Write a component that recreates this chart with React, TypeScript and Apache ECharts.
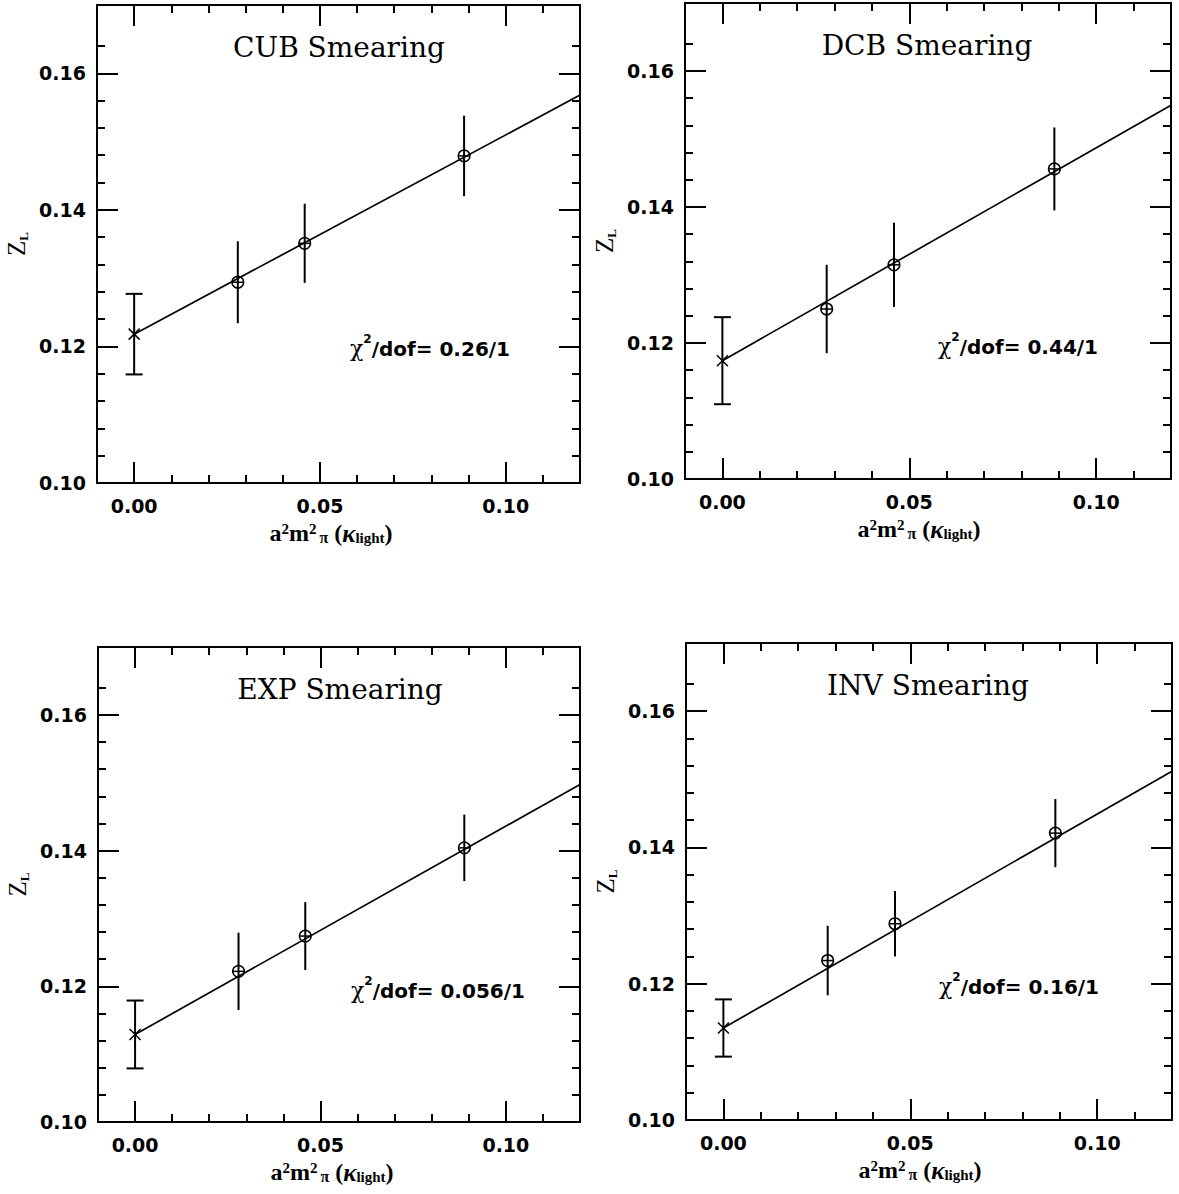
import React, { useEffect, useRef } from "react";
import * as echarts from "echarts";

const WIDTH = 1179;
const HEIGHT = 1194;

// Smearing schemes, one panel each
const schemes = ["CUB", "DCB", "EXP", "INV"];

// Light-quark pion masses squared (lattice units)
const a2m2pi = [0.0279, 0.0459, 0.0888];

// Z_L at each kappa_light, with errors
const cubZ = [0.1294, 0.1351, 0.1479];
const cubErr = [0.006, 0.0058, 0.0059];
const dcbZ = [0.125, 0.1315, 0.1456];
const dcbErr = [0.0065, 0.0062, 0.0061];
const expZ = [0.1222, 0.1274, 0.1404];
const expErr = [0.0057, 0.005, 0.0049];
const invZ = [0.1234, 0.1288, 0.1421];
const invErr = [0.0051, 0.0048, 0.005];

// Chiral extrapolation (value at a^2 m_pi^2 = 0) and fit slope
const chiralZ = [0.1218, 0.1174, 0.1129, 0.1135];
const chiralErr = [0.0059, 0.0064, 0.005, 0.0042];
const fitSlope = [0.2917, 0.313, 0.307, 0.314];
const chi2 = ["0.26/1", "0.44/1", "0.056/1", "0.16/1"];

// Axis ticks
const xMin = -0.01;
const xMax = 0.12;
const yMin = 0.1;
const yMax = 0.17;
const xMajor = [0, 0.05, 0.1];
const xMinor = [0.01, 0.02, 0.03, 0.04, 0.06, 0.07, 0.08, 0.09, 0.11];
const yMajor = [0.1, 0.12, 0.14, 0.16];
const yMinor = [0.104, 0.108, 0.112, 0.116, 0.124, 0.128, 0.132, 0.136, 0.144, 0.148, 0.152, 0.156, 0.164];

const panelZ = [cubZ, dcbZ, expZ, invZ];
const panelErr = [cubErr, dcbErr, expErr, invErr];

// Panel frames in pixels
const frames = [
  { left: 97, top: 5, width: 483, height: 478 },
  { left: 685, top: 3, width: 486, height: 476 },
  { left: 98, top: 647, width: 482, height: 475 },
  { left: 686, top: 643, width: 486, height: 477 },
];

const TICK_FONT = "DejaVu Sans";
const SERIF = "DejaVu Serif";
const LABEL_SERIF = "Liberation Serif";

function tickAxis(gi: number, dim: "x" | "y", position: string, values: number[], length: number, labels: boolean) {
  const isX = dim === "x";
  return {
    gridIndex: gi,
    type: "value",
    position,
    min: isX ? xMin : yMin,
    max: isX ? xMax : yMax,
    splitLine: { show: false },
    axisLine: { show: false, onZero: false },
    axisTick: {
      show: true,
      inside: true,
      length,
      customValues: values,
      lineStyle: { color: "#000", width: 2 },
    },
    axisLabel: labels
      ? {
          show: true,
          customValues: values,
          formatter: (v: number) => v.toFixed(2),
          margin: isX ? 13 : 11,
          color: "#000",
          fontFamily: TICK_FONT,
          fontWeight: "bold",
          fontSize: 19,
          lineHeight: 19,
        }
      : { show: false },
  };
}

function buildOption() {
  const grid: any[] = [];
  const xAxis: any[] = [];
  const yAxis: any[] = [];
  const series: any[] = [];
  const graphic: any[] = [];

  schemes.forEach((name, i) => {
    const f = frames[i];
    grid.push({
      left: f.left,
      top: f.top,
      width: f.width,
      height: f.height,
      show: true,
      borderColor: "#000",
      borderWidth: 2,
      backgroundColor: "transparent",
    });
    const xBase = xAxis.length;
    const yBase = yAxis.length;
    xAxis.push(
      tickAxis(i, "x", "bottom", xMajor, 21, true),
      tickAxis(i, "x", "bottom", xMinor, 8, false),
      tickAxis(i, "x", "top", xMajor, 21, false),
      tickAxis(i, "x", "top", xMinor, 8, false)
    );
    yAxis.push(
      tickAxis(i, "y", "left", yMajor, 21, true),
      tickAxis(i, "y", "left", yMinor, 8, false),
      tickAxis(i, "y", "right", yMajor, 21, false),
      tickAxis(i, "y", "right", yMinor, 8, false)
    );

    // Linear fit, starting at the chiral limit
    series.push({
      type: "line",
      xAxisIndex: xBase,
      yAxisIndex: yBase,
      symbol: "none",
      silent: true,
      lineStyle: { color: "#000", width: 1.7 },
      data: [
        [0, chiralZ[i]],
        [xMax, chiralZ[i] + fitSlope[i] * xMax],
      ],
    });

    // Points with error bars: kind 0 = extrapolated (cross), 1 = measured (circled plus)
    const pts: number[][] = [[0, chiralZ[i], chiralErr[i], 0]];
    a2m2pi.forEach((x, k) => pts.push([x, panelZ[i][k], panelErr[i][k], 1]));

    series.push({
      type: "custom",
      xAxisIndex: xBase,
      yAxisIndex: yBase,
      silent: true,
      clip: false,
      encode: { x: 0, y: 1 },
      data: pts,
      renderItem: (_params: any, api: any) => {
        const x = api.value(0);
        const y = api.value(1);
        const e = api.value(2);
        const kind = api.value(3);
        const c = api.coord([x, y]);
        const t = api.coord([x, y + e]);
        const b = api.coord([x, y - e]);
        const stroke = { stroke: "#000", lineWidth: 2, fill: null };
        const thin = { stroke: "#000", lineWidth: 1.5, fill: null };
        const children: any[] = [
          { type: "line", shape: { x1: t[0], y1: t[1], x2: b[0], y2: b[1] }, style: stroke },
        ];
        if (kind === 0) {
          const cw = 8.5;
          const s = 5.5;
          children.push(
            { type: "line", shape: { x1: c[0] - cw, y1: t[1], x2: c[0] + cw, y2: t[1] }, style: stroke },
            { type: "line", shape: { x1: c[0] - cw, y1: b[1], x2: c[0] + cw, y2: b[1] }, style: stroke },
            { type: "line", shape: { x1: c[0] - s, y1: c[1] - s, x2: c[0] + s, y2: c[1] + s }, style: thin },
            { type: "line", shape: { x1: c[0] - s, y1: c[1] + s, x2: c[0] + s, y2: c[1] - s }, style: thin }
          );
        } else {
          const r = 5.8;
          children.push(
            { type: "circle", shape: { cx: c[0], cy: c[1], r }, style: thin },
            { type: "line", shape: { x1: c[0] - r, y1: c[1], x2: c[0] + r, y2: c[1] }, style: thin }
          );
        }
        return { type: "group", children };
      },
    });

    // Panel title
    graphic.push({
      type: "text",
      x: f.left + 242,
      y: f.top + 42,
      style: {
        text: `${name} Smearing`,
        fill: "#000",
        font: `28px "${SERIF}"`,
        align: "center",
        verticalAlign: "middle",
      },
    });

    // Fit quality
    graphic.push({
      type: "text",
      x: f.left + 253,
      y: f.top + 341,
      style: {
        text: `{c|χ}{s|2}{t|/dof= ${chi2[i]}}`,
        align: "left",
        verticalAlign: "middle",
        rich: {
          c: { fontFamily: SERIF, fontSize: 22, fill: "#000", lineHeight: 26, verticalAlign: "bottom" },
          s: { fontFamily: TICK_FONT, fontWeight: "bold", fontSize: 12, fill: "#000", lineHeight: 12, verticalAlign: "top" },
          t: { fontFamily: TICK_FONT, fontWeight: "bold", fontSize: 20, fill: "#000", lineHeight: 26, verticalAlign: "bottom" },
        },
      },
    });

    // x-axis name
    graphic.push({
      type: "text",
      x: f.left + 234,
      y: f.top + f.height + 50,
      style: {
        text: "{b|a}{s|2}{b|m}{s|2}{p|π}{b| (}{k|κ}{l|light}{b|)}",
        align: "center",
        verticalAlign: "middle",
        rich: {
          b: { fontFamily: LABEL_SERIF, fontWeight: "bold", fontSize: 24, fill: "#000", lineHeight: 24, verticalAlign: "middle" },
          s: { fontFamily: LABEL_SERIF, fontWeight: "bold", fontSize: 15, fill: "#000", lineHeight: 15, verticalAlign: "top" },
          p: { fontFamily: LABEL_SERIF, fontWeight: "bold", fontSize: 16, fill: "#000", lineHeight: 16, verticalAlign: "bottom", padding: [0, 0, 0, 3] },
          k: { fontFamily: LABEL_SERIF, fontStyle: "italic", fontWeight: "bold", fontSize: 25, fill: "#000", lineHeight: 24, verticalAlign: "middle" },
          l: { fontFamily: LABEL_SERIF, fontWeight: "bold", fontSize: 15, fill: "#000", lineHeight: 15, verticalAlign: "bottom" },
        },
      },
    });

    // y-axis name
    graphic.push({
      type: "text",
      x: f.left - 81,
      y: f.top + f.height / 2,
      rotation: Math.PI / 2,
      style: {
        text: "{z|Z}{l|L}",
        align: "center",
        verticalAlign: "middle",
        rich: {
          z: { fontFamily: LABEL_SERIF, fontSize: 25, fill: "#000", lineHeight: 28, verticalAlign: "middle" },
          l: { fontFamily: LABEL_SERIF, fontWeight: "bold", fontSize: 13, fill: "#000", lineHeight: 13, verticalAlign: "bottom" },
        },
      },
    });
  });

  return {
    animation: false,
    backgroundColor: "#fff",
    grid,
    xAxis,
    yAxis,
    series,
    graphic,
  };
}

export default function App() {
  const ref = useRef<HTMLDivElement>(null);

  useEffect(() => {
    if (!ref.current) return;
    const chart = echarts.init(ref.current, undefined, { renderer: "svg" });
    chart.setOption(buildOption() as any);
    return () => chart.dispose();
  }, []);

  return (
    <div
      ref={ref}
      style={{ position: "absolute", left: 0, top: 0, width: WIDTH, height: HEIGHT, background: "#fff" }}
    />
  );
}
